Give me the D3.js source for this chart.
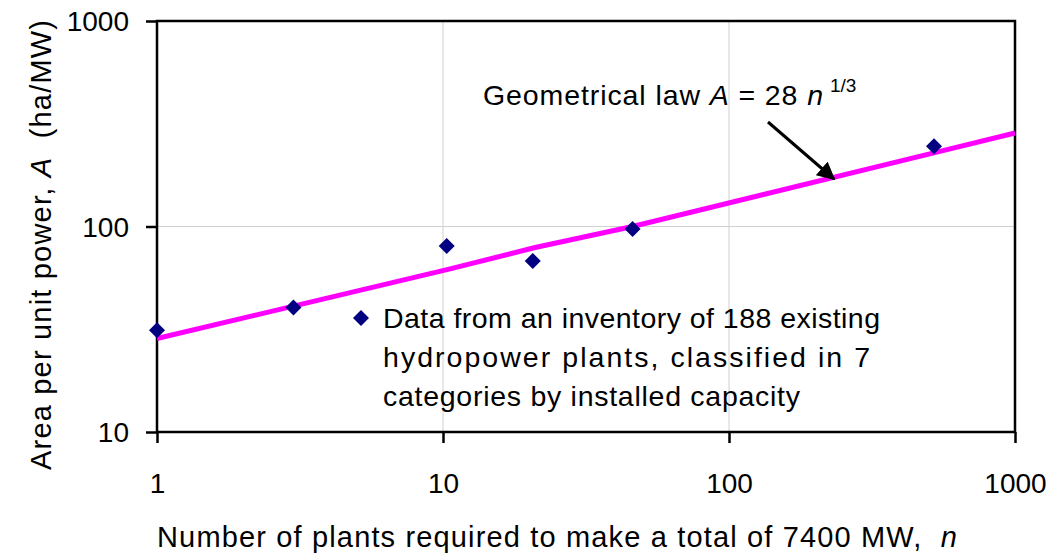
<!DOCTYPE html>
<html>
<head>
<meta charset="utf-8">
<script src="https://cdn.jsdelivr.net/npm/d3@7"></script>
<style>
  body { margin: 0; background: #fff; }
  svg { display: block; font-family: "Liberation Sans", Arial, sans-serif; }
</style>
</head>
<body>
<svg id="chart" width="1059" height="555"></svg>
<script>
// observed data (n = number of plants, A = area per unit power)
const plantsN = [1, 3, 10.3, 20.6, 46, 521]
const areaA = [31.3, 40.4, 80.4, 68, 97.3, 246]

// geometrical law A = 28 n^(1/3), as drawn on the original
const lawN = [1, 3, 10.5, 21, 46, 520, 1000]
const lawA = [28.5, 41, 62, 79, 100, 228, 285]

const xTicks = [1, 10, 100, 1000]
const yTicks = [10, 100, 1000]

const margin = { left: 157, top: 21, right: 44, bottom: 123 }
const W = 1059, H = 555
const svg = d3.select('#chart')

const x = d3.scaleLog().domain([1, 1000]).range([margin.left, W - margin.right])
const y = d3.scaleLog().domain([10, 1000]).range([H - margin.bottom, margin.top])

// grid lines (major, inside only)
svg.append('g').selectAll('line.gx')
  .data(xTicks.slice(1, -1)).join('line')
  .attr('x1', d => x(d)).attr('x2', d => x(d))
  .attr('y1', y(10)).attr('y2', y(1000))
  .attr('stroke', '#d0d0d0').attr('stroke-width', 1)
svg.append('g').selectAll('line.gy')
  .data(yTicks.slice(1, -1)).join('line')
  .attr('x1', x(1)).attr('x2', x(1000))
  .attr('y1', d => y(d)).attr('y2', d => y(d))
  .attr('stroke', '#d0d0d0').attr('stroke-width', 1)

// axes
const xAxis = svg.append('g')
  .attr('transform', `translate(0,${y(10)})`)
  .call(d3.axisBottom(x).tickValues(xTicks).tickFormat(d3.format('d')).tickSizeOuter(0).tickSize(11).tickPadding(30))
const yAxis = svg.append('g')
  .attr('transform', `translate(${x(1)},0)`)
  .call(d3.axisLeft(y).tickValues(yTicks).tickFormat(d3.format('d')).tickSizeOuter(0).tickSize(11).tickPadding(17))
for (const g of [xAxis, yAxis]) {
  g.select('.domain').remove()
  g.selectAll('line').attr('stroke', '#000').attr('stroke-width', 2.5)
  g.selectAll('text').attr('font-size', 28).attr('fill', '#000')
    .attr('font-family', '"Liberation Sans", Arial, sans-serif')
}
yAxis.selectAll('text').attr('dy', '0.35em')

// frame
svg.append('rect')
  .attr('x', x(1)).attr('y', y(1000))
  .attr('width', x(1000) - x(1)).attr('height', y(10) - y(1000))
  .attr('fill', 'none').attr('stroke', '#000').attr('stroke-width', 2.5)

// law line
const line = d3.line().x((d, i) => x(d)).y((d, i) => y(lawA[i]))
svg.append('path')
  .attr('d', line(lawN))
  .attr('fill', 'none').attr('stroke', '#ff00ff').attr('stroke-width', 5)

// data points
const diamond = d3.symbol().type(d3.symbolSquare).size(128)
svg.append('g').selectAll('path')
  .data(plantsN).join('path')
  .attr('d', diamond)
  .attr('transform', (d, i) => `translate(${x(d)},${y(areaA[i])}) rotate(45)`)
  .attr('fill', '#000080')

// legend
svg.append('path').attr('d', diamond)
  .attr('transform', 'translate(361,318) rotate(45)')
  .attr('fill', '#000080')
const legendLines = ['Data from an inventory of 188 existing',
  'hydropower plants, classified in 7',
  'categories by installed capacity']
const legendLen = [497, 487, 417]
svg.append('g').selectAll('text')
  .data(legendLines).join('text')
  .attr('x', 383).attr('y', (d, i) => 328 + i * 39)
  .attr('font-size', 28.5)
  .attr('textLength', (d, i) => legendLen[i]).attr('lengthAdjust', 'spacing')
  .text(d => d)

// annotation
const ann = svg.append('text').attr('x', 483).attr('y', 105).attr('font-size', 28.5)
  .attr('textLength', 340).attr('lengthAdjust', 'spacing')
ann.append('tspan').text('Geometrical law ')
ann.append('tspan').attr('font-style', 'italic').text('A')
ann.append('tspan').text(' = 28 ')
ann.append('tspan').attr('font-style', 'italic').text('n')
svg.append('text').attr('x', 830).attr('y', 92).attr('font-size', 19).text('1/3')

svg.append('defs').append('marker')
  .attr('id', 'arr').attr('viewBox', '0 0 10 10').attr('refX', 9).attr('refY', 5)
  .attr('markerWidth', 6).attr('markerHeight', 6).attr('orient', 'auto')
  .append('path').attr('d', 'M0,0L10,5L0,10z').attr('fill', '#000')
svg.append('line')
  .attr('x1', 768).attr('y1', 122).attr('x2', 834).attr('y2', 179)
  .attr('stroke', '#000').attr('stroke-width', 3).attr('marker-end', 'url(#arr)')

// axis titles
const yt = svg.append('text')
  .attr('transform', 'translate(51,245) rotate(-90)')
  .attr('text-anchor', 'middle').attr('font-size', 29)
  .attr('textLength', 450).attr('lengthAdjust', 'spacing')
yt.append('tspan').text('Area per unit power, ')
yt.append('tspan').attr('font-style', 'italic').text('A')
yt.append('tspan').text('\u00a0 (ha/MW)')

const xt = svg.append('text')
  .attr('x', 157).attr('y', 547).attr('font-size', 29)
  .attr('textLength', 800).attr('lengthAdjust', 'spacing')
xt.append('tspan').text('Number of plants required to make a total of 7400 MW,\u00a0 ')
xt.append('tspan').attr('font-style', 'italic').text('n')
</script>
</body>
</html>
